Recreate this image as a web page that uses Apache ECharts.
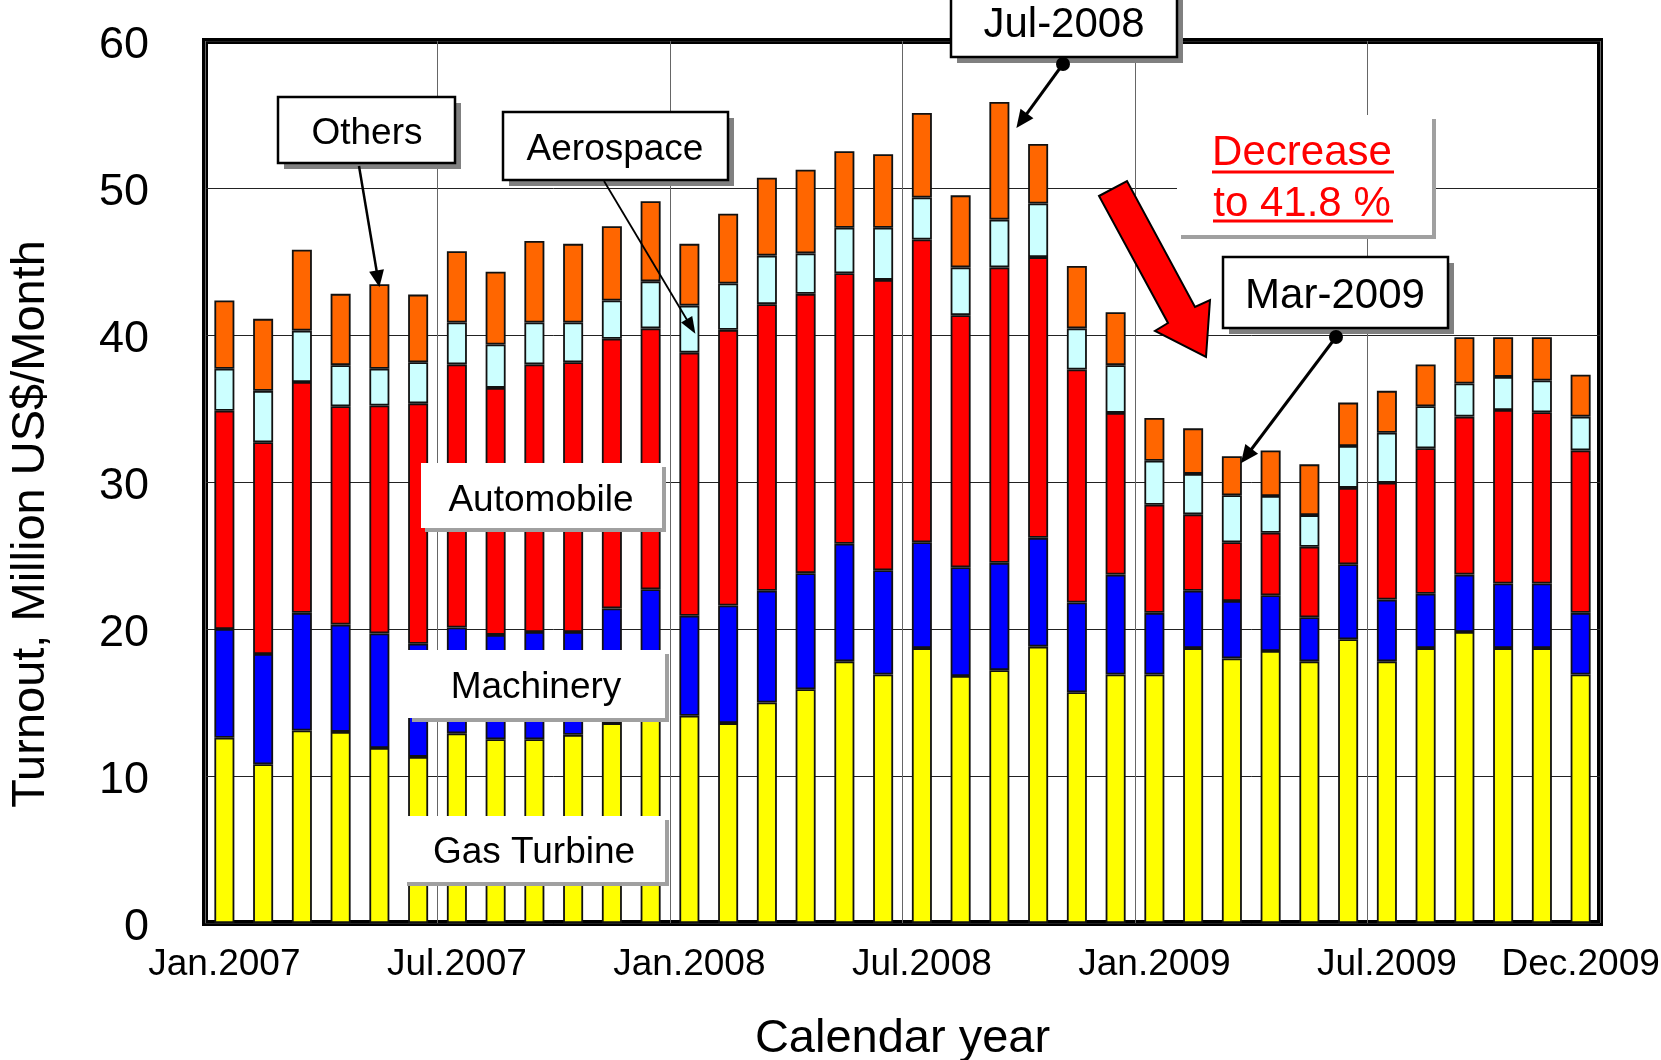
<!DOCTYPE html>
<html>
<head>
<meta charset="utf-8">
<script src="https://cdn.jsdelivr.net/npm/echarts@6/dist/echarts.min.js"></script>
<style>
  html, body { margin: 0; padding: 0; background: #fff; }
  #main { width: 1661px; height: 1060px; }
</style>
</head>
<body>
<div id="main"></div>
<script>
// Monthly turnout by sector, Jan.2007 - Dec.2009 (million US$ per month)
const months = [
  'Jan.2007','Feb.2007','Mar.2007','Apr.2007','May.2007','Jun.2007',
  'Jul.2007','Aug.2007','Sep.2007','Oct.2007','Nov.2007','Dec.2007',
  'Jan.2008','Feb.2008','Mar.2008','Apr.2008','May.2008','Jun.2008',
  'Jul.2008','Aug.2008','Sep.2008','Oct.2008','Nov.2008','Dec.2008',
  'Jan.2009','Feb.2009','Mar.2009','Apr.2009','May.2009','Jun.2009',
  'Jul.2009','Aug.2009','Sep.2009','Oct.2009','Nov.2009','Dec.2009'
];
const shownMonths = ['Jan.2007','Jul.2007','Jan.2008','Jul.2008','Jan.2009','Jul.2009','Dec.2009'];

const gasTurbine = [12.6,10.8,13.1,13.0,11.9,11.3,12.9,12.5,12.5,12.8,13.6,14.0,
                    14.1,13.6,15.0,15.9,17.8,16.9,18.7,16.8,17.2,18.8,15.7,16.9,
                    16.9,18.7,18.0,18.5,17.8,19.3,17.8,18.7,19.8,18.7,18.7,16.9];
const machinery  = [7.4,7.5,8.0,7.3,7.8,7.7,7.2,7.1,7.3,7.0,7.8,8.7,
                    6.8,8.0,7.6,7.9,8.0,7.1,7.2,7.4,7.3,7.4,6.1,6.8,
                    4.2,3.9,3.9,3.8,3.0,5.1,4.2,3.7,3.9,4.4,4.4,4.2];
const automobile = [14.85,14.4,15.7,14.85,15.5,16.35,17.9,16.8,18.2,18.35,18.35,17.75,
                    17.9,18.75,19.5,19.0,18.4,19.75,20.6,17.15,20.1,19.1,15.85,11.0,
                    7.35,5.2,4.0,4.25,4.8,5.2,7.95,9.9,10.75,11.8,11.65,11.05];
const aerospace  = [2.85,3.5,3.5,2.8,2.5,2.8,2.85,2.95,2.85,2.7,2.6,3.2,
                    3.2,3.15,3.3,2.75,3.1,3.55,2.85,3.25,3.25,3.65,2.8,3.25,
                    3.0,2.75,3.2,2.5,2.15,2.85,3.4,2.85,2.25,2.25,2.15,2.3];
const others     = [4.65,4.9,5.5,4.85,5.75,4.6,4.85,4.95,5.55,5.35,5.05,5.45,
                    4.2,4.75,5.3,5.7,5.2,5.0,5.75,4.9,8.0,4.05,4.25,3.6,
                    2.9,3.1,2.65,3.1,3.45,2.95,2.85,2.85,3.15,2.7,2.95,2.85];

const FONT = '"Liberation Sans", Arial, Helvetica, sans-serif';

const sectors = [
  { name: 'Gas Turbine', data: gasTurbine, color: '#FFFF00' },
  { name: 'Machinery',   data: machinery,  color: '#0000FF' },
  { name: 'Automobile',  data: automobile, color: '#FF0000' },
  { name: 'Aerospace',   data: aerospace,  color: '#CCFFFF' },
  { name: 'Others',      data: others,     color: '#FF6600' }
];

const chart = echarts.init(document.getElementById('main'), null, { renderer: 'canvas' });

chart.setOption({
  animation: false,
  backgroundColor: '#fff',
  grid: {
    left: 205, right: 61, top: 41, bottom: 137,
    show: true, borderColor: '#000', borderWidth: 6,
    containLabel: false, outerBoundsMode: 'none'
  },
  xAxis: {
    type: 'category',
    data: months,
    boundaryGap: true,
    axisLine: { show: false },
    axisTick: { show: false },
    axisLabel: {
      interval: (i, v) => shownMonths.includes(v),
      fontFamily: FONT, fontSize: 37, color: '#000', margin: 23
    },
    splitLine: {
      show: true,
      interval: (i) => i % 6 === 0,
      lineStyle: { color: '#666', width: 1 }
    },
    name: 'Calendar year',
    nameLocation: 'middle',
    nameGap: 93,
    nameTextStyle: { fontFamily: FONT, fontSize: 47, color: '#000' }
  },
  yAxis: {
    type: 'value',
    min: 0, max: 60, interval: 10,
    axisLine: { show: false },
    axisTick: { show: false },
    axisLabel: {
      margin: 56,
      formatter: '{t|{value}}',
      rich: { t: { fontFamily: FONT, fontSize: 45, color: '#000', padding: [10, 0, 0, 0] } }
    },
    splitLine: { show: true, lineStyle: { color: '#222', width: 1 } },
    name: 'Turnout, Million US$/Month',
    nameLocation: 'middle',
    nameGap: 150,
    nameTextStyle: { fontFamily: FONT, fontSize: 47, color: '#000', padding: [0, 84, 0, 0] }
  },
  series: sectors.map(s => ({
    name: s.name,
    type: 'bar',
    stack: 'turnout',
    data: s.data,
    barWidth: 20,
    itemStyle: { color: s.color, borderColor: '#111', borderWidth: 1.8 }
  }))
});

// --- annotations ---------------------------------------------------------
const totals = months.map((_, i) => sectors.reduce((a, s) => a + s.data[i], 0));
const toPx = (i, v) => chart.convertToPixel({ gridIndex: 0 }, [i, v]);

function shadowBox(x, y, w, h, bordered) {
  const off = bordered ? 6 : 4;
  return [
    { type: 'rect', z: 100, shape: { x: x + off, y: y + off, width: w, height: h },
      style: { fill: bordered ? '#808080' : '#a0a0a0' } },
    { type: 'rect', z: 101, shape: { x, y, width: w, height: h },
      style: bordered ? { fill: '#fff', stroke: '#000', lineWidth: 2.5 } : { fill: '#fff' } }
  ];
}
function label(x, y, text, size, color) {
  return { type: 'text', z: 102, x, y: y + 3,
    style: { text, fontFamily: FONT, fontSize: size, fill: color || '#000',
             align: 'center', verticalAlign: 'middle', textAlign: 'center', textVerticalAlign: 'middle' } };
}
function arrow(x1, y1, x2, y2, lw, hl, hw) {
  const dx = x2 - x1, dy = y2 - y1, L = Math.hypot(dx, dy), ux = dx / L, uy = dy / L;
  const bx = x2 - ux * hl, by = y2 - uy * hl;
  return [
    { type: 'line', z: 103, shape: { x1, y1, x2: bx + ux * 2, y2: by + uy * 2 },
      style: { stroke: '#000', lineWidth: lw } },
    { type: 'polygon', z: 103,
      shape: { points: [[x2, y2], [bx - uy * hw / 2, by + ux * hw / 2], [bx + uy * hw / 2, by - ux * hw / 2]] },
      style: { fill: '#000' } }
  ];
}

const gfx = [];

// Others
gfx.push(...shadowBox(278, 97, 177, 66, true), label(367, 131, 'Others', 37));
{ const p = toPx(4, totals[4]); gfx.push(...arrow(359, 166, p[0], p[1] + 3, 2.5, 17, 15)); }

// Aerospace
gfx.push(...shadowBox(503, 112, 225, 68, true), label(615, 147, 'Aerospace', 37));
{ const i = 12;
  const v = gasTurbine[i] + machinery[i] + automobile[i] + aerospace[i] * 0.4;
  const p = toPx(i, v);
  gfx.push(...arrow(604, 181, p[0] + 6, p[1], 1.8, 17, 13)); }

// Sector captions over the bars
gfx.push(...shadowBox(421, 463, 241, 65, false), label(541, 498, 'Automobile', 37));
gfx.push(...shadowBox(408, 650, 257, 68, false), label(536, 685, 'Machinery', 37));
gfx.push(...shadowBox(403, 816, 262, 66, false), label(534, 850, 'Gas Turbine', 37));

// Peak callout
gfx.push(...shadowBox(951, -14, 226, 71, true), label(1064, 22, 'Jul-2008', 42));
{ const p = toPx(20, totals[20]);
  gfx.push({ type: 'circle', z: 104, shape: { cx: 1063, cy: 64, r: 7 }, style: { fill: '#000' } });
  gfx.push(...arrow(1063, 64, p[0] + 17, p[1] + 26, 3, 18, 16)); }

// Trough callout
gfx.push(...shadowBox(1223, 257, 225, 71, true), label(1335, 293, 'Mar-2009', 42));
{ const p = toPx(26, totals[26]);
  gfx.push({ type: 'circle', z: 104, shape: { cx: 1336, cy: 337, r: 7 }, style: { fill: '#000' } });
  gfx.push(...arrow(1336, 337, p[0] + 9, p[1] + 7, 3, 18, 16)); }

// Decrease note
gfx.push(...shadowBox(1177, 115, 255, 120, false));
gfx.push(label(1302, 150, 'Decrease', 42, '#FF0000'), label(1302, 201, 'to 41.8 %', 42, '#FF0000'));
gfx.push({ type: 'line', z: 102, shape: { x1: 1212, y1: 172, x2: 1394, y2: 172 }, style: { stroke: '#FF0000', lineWidth: 3 } });
gfx.push({ type: 'line', z: 102, shape: { x1: 1213, y1: 221, x2: 1393, y2: 221 }, style: { stroke: '#FF0000', lineWidth: 3 } });

// Big downward arrow
gfx.push({ type: 'polygon', z: 105,
  shape: { points: [[1099,196],[1127,181],[1195,307],[1210,300],[1206,357],[1155,331],[1168,323]] },
  style: { fill: '#FF0000', stroke: '#000', lineWidth: 2 } });

chart.setOption({ graphic: gfx });
</script>
</body>
</html>
